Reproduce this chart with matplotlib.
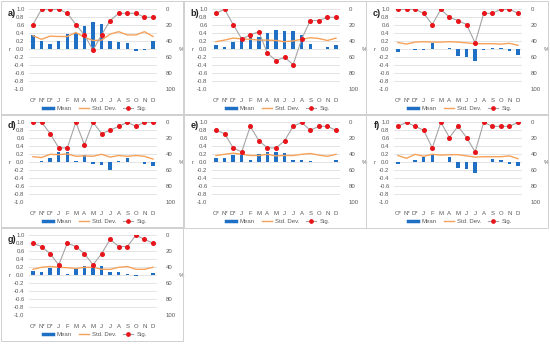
import matplotlib
matplotlib.use("Agg")
import matplotlib.pyplot as plt
from matplotlib.lines import Line2D
from matplotlib.patches import Rectangle

months = ["O*", "N*", "D*", "J", "F", "M", "A", "M", "J", "J", "A", "S", "O", "N", "D"]
panel_labels = ["a)", "b)", "c)", "d)", "e)", "f)", "g)"]

mean_a = [0.36, 0.21, 0.13, 0.21, 0.39, 0.41, 0.58, 0.69, 0.63, 0.21, 0.19, 0.16, -0.05, -0.01, 0.21]
std_a = [0.34, 0.25, 0.33, 0.32, 0.32, 0.42, 0.30, 0.22, 0.23, 0.38, 0.44, 0.36, 0.36, 0.44, 0.32]
sig_a = [19, 0, 0, 0, 5, 19, 32, 51, 32, 14, 5, 5, 5, 10, 10]

mean_b = [0.10, 0.05, 0.19, 0.30, 0.31, 0.32, 0.42, 0.48, 0.47, 0.45, 0.36, 0.13, 0.01, 0.05, 0.12]
std_b = [0.19, 0.23, 0.28, 0.26, 0.25, 0.23, 0.23, 0.22, 0.19, 0.21, 0.25, 0.29, 0.27, 0.22, 0.28]
sig_b = [5, 0, 19, 37, 32, 28, 55, 64, 60, 69, 37, 14, 14, 10, 10]

mean_c = [-0.06, 0.00, -0.02, -0.02, 0.15, 0.00, 0.04, -0.16, -0.20, -0.28, -0.02, 0.04, 0.03, -0.04, -0.14]
std_c = [0.17, 0.13, 0.18, 0.19, 0.18, 0.18, 0.19, 0.18, 0.16, 0.14, 0.14, 0.14, 0.13, 0.15, 0.10]
sig_c = [0, 0, 0, 5, 19, 0, 10, 14, 19, 42, 5, 5, 0, 0, 5]

mean_d = [0.00, 0.03, 0.12, 0.25, 0.26, 0.03, 0.19, -0.04, -0.06, -0.18, 0.03, 0.11, 0.02, -0.04, -0.08]
std_d = [0.14, 0.12, 0.20, 0.19, 0.21, 0.15, 0.16, 0.15, 0.20, 0.13, 0.17, 0.15, 0.17, 0.15, 0.08]
sig_d = [0, 0, 14, 32, 32, 0, 28, 0, 14, 10, 5, 0, 5, 0, 0]

mean_e = [0.10, 0.10, 0.19, 0.23, 0.05, 0.22, 0.25, 0.25, 0.24, 0.06, 0.07, 0.04, 0.00, 0.00, 0.07]
std_e = [0.17, 0.20, 0.23, 0.20, 0.17, 0.17, 0.20, 0.16, 0.17, 0.17, 0.20, 0.22, 0.18, 0.15, 0.20]
sig_e = [10, 14, 32, 37, 5, 23, 32, 32, 23, 5, 0, 10, 5, 5, 10]

mean_f = [-0.05, 0.02, 0.06, 0.13, 0.22, 0.02, 0.14, -0.14, -0.17, -0.26, 0.00, 0.09, 0.05, -0.03, -0.10]
std_f = [0.17, 0.10, 0.20, 0.15, 0.20, 0.18, 0.19, 0.19, 0.16, 0.13, 0.14, 0.14, 0.14, 0.16, 0.09]
sig_f = [5, 0, 5, 10, 32, 0, 19, 5, 19, 37, 0, 5, 5, 5, 0]

mean_g = [0.10, 0.09, 0.18, 0.27, 0.03, 0.17, 0.23, 0.23, 0.22, 0.08, 0.07, 0.04, -0.01, 0.00, 0.05]
std_g = [0.15, 0.20, 0.22, 0.20, 0.19, 0.17, 0.20, 0.20, 0.15, 0.15, 0.20, 0.22, 0.15, 0.15, 0.20]
sig_g = [10, 14, 23, 37, 10, 14, 23, 37, 23, 5, 14, 14, 0, 5, 10]

means = [mean_a, mean_b, mean_c, mean_d, mean_e, mean_f, mean_g]
stds = [std_a, std_b, std_c, std_d, std_e, std_f, std_g]
sigs = [sig_a, sig_b, sig_c, sig_d, sig_e, sig_f, sig_g]

W, H = 550, 345
fig = plt.figure(figsize=(W / 100, H / 100), dpi=100)
plt.rcParams['font.family'] = ['Liberation Sans', 'DejaVu Sans']

col_left = [0, 183, 365]
row_top = [0, 113, 226]
BLUE = "#1f6fc5"
ORANGE = "#f7a25a"
GRAY = "#a5a5a5"
RED = "#e8141b"
TXT = "#595959"
GRID = "#d9d9d9"

def px_axes(x0, y0, x1, y1):
    return [x0 / W, 1 - y1 / H, (x1 - x0) / W, (y1 - y0) / H]

x = list(range(len(months)))
for i in range(7):
    r, c = divmod(i, 3)
    px = col_left[c]
    py = row_top[r]
    # panel border
    fig.patches.append(Rectangle(((px + 0.5) / W, 1 - (py + 114.5) / H), 182 / W, 114 / H,
                                 transform=fig.transFigure, fill=False,
                                 edgecolor="#d0d0d0", linewidth=0.7))
    ax = fig.add_axes(px_axes(px + 28.7, py + 9.3, px + 157.3, py + 89.3))
    ax.set_xlim(-0.5, len(months) - 0.5)
    ax.set_ylim(-1.0, 1.0)
    ax.set_yticks([v / 10 for v in range(-10, 11, 2)])
    ax.set_yticklabels([f"{v / 10:.1f}" for v in range(-10, 11, 2)])
    ax.grid(axis='y', color=GRID, linewidth=0.5)
    ax.set_axisbelow(True)
    for s in ax.spines.values():
        s.set_visible(False)
    ax.bar(x, means[i], width=0.4, color=BLUE, zorder=2)
    ax.plot(x, stds[i], color=ORANGE, linewidth=1.0, zorder=3)
    ax.set_xticks(x)
    ax.set_xticklabels(months)
    ax.tick_params(axis='both', length=0, labelsize=4.3, labelcolor=TXT, pad=3)
    ax.tick_params(axis='x', pad=6)
    ax.set_ylabel("r", fontsize=4.3, color=TXT, rotation=0, labelpad=3, va='center')

    ax2 = ax.twinx()
    ax2.set_ylim(100, 0)
    ax2.set_yticks([0, 20, 40, 60, 80, 100])
    for s in ax2.spines.values():
        s.set_visible(False)
    ax2.plot(x, sigs[i], color=GRAY, linewidth=0.8, marker='o', markersize=2.6,
             markerfacecolor=RED, markeredgecolor=RED, zorder=4)
    ax2.tick_params(axis='y', length=0, labelsize=4.3, labelcolor=TXT, pad=6)
    ax2.set_ylabel("%", fontsize=4.3, color=TXT, rotation=0, labelpad=4, va='center')

    fig.text((px + 12) / W, 1 - (py + 13) / H, panel_labels[i], fontsize=6.5,
             fontweight='bold', color="#222222", ha='center', va='center')

    handles = [Line2D([0], [0], color=BLUE, linewidth=2.5),
               Line2D([0], [0], color=ORANGE, linewidth=1.0),
               Line2D([0], [0], color=GRAY, linewidth=0.8, marker='o', markersize=2.4,
                      markerfacecolor=RED, markeredgecolor=RED)]
    fig.legend(handles, ["Mean", "Std. Dev.", "Sig."], loc='center',
               bbox_to_anchor=((px + 95) / W, 1 - (py + 108) / H),
               ncol=3, frameon=False, fontsize=4.3, labelcolor=TXT,
               handlelength=1.7, handletextpad=0.5, columnspacing=1.2,
               borderpad=0)

fig.savefig("out.png", dpi=100)
